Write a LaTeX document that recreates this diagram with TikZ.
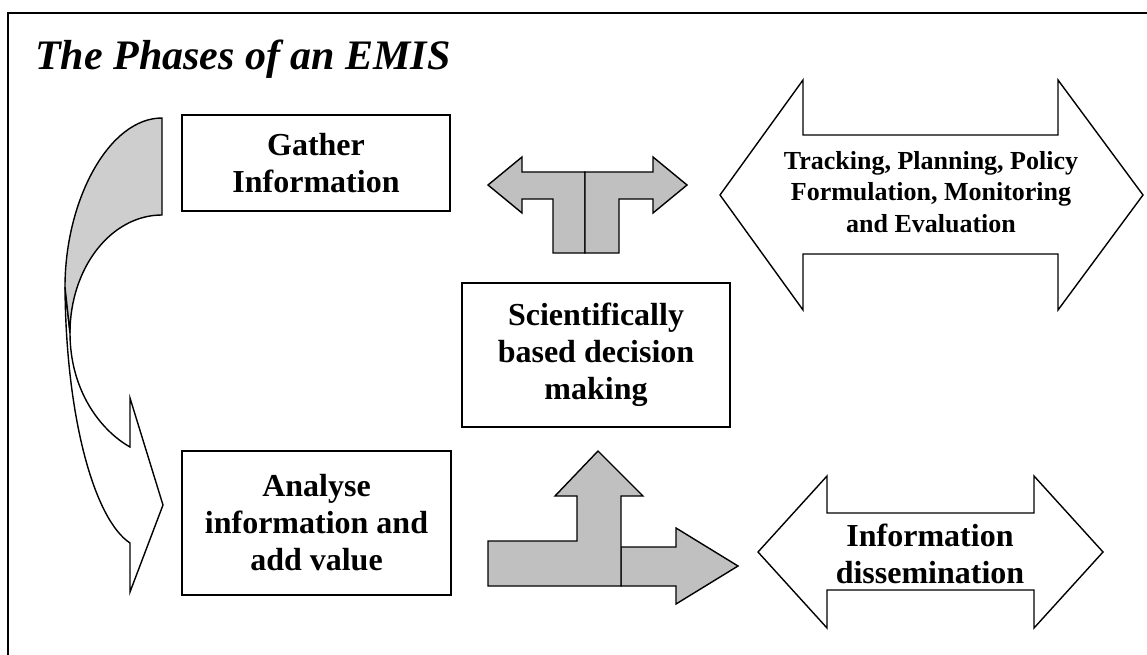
\documentclass[tikz,border=0pt]{standalone}
\usepackage{fontspec}
\setmainfont{Liberation Serif}
\newcommand{\phasefont}{\fontsize{32}{37}\bfseries\selectfont}
\newcommand{\usesfont}{\fontsize{26}{31.5}\bfseries\selectfont}
\newcommand{\headfont}{\fontsize{42}{48}\bfseries\itshape\selectfont}
\definecolor{arrowgray}{RGB}{192,192,192}
\definecolor{bandgray}{RGB}{206,206,206}
\begin{document}
\begin{tikzpicture}[x=1pt,y=-1pt,
  outline/.style={draw=black,line width=1.4pt,line join=miter},
  phasebox/.style={outline,fill=white,inner sep=0pt,align=center,font=\phasefont},
  blockarrow/.style={outline,fill=arrowgray},
  hollowarrow/.style={outline,fill=white},
  label/.style={align=center,inner sep=0pt}
]
\useasboundingbox (0,0) rectangle (1147,655);

% frame
\draw[line width=1.6pt] (8,655) -- (8,13) -- (1147,13);

% heading
\node[anchor=base west,inner sep=0pt,font=\headfont] (title) at (35,70) {The Phases of an EMIS};

% curved arrow linking gathering to analysis
\draw[outline,fill=white] (65,287) .. controls (66,420) and (95,520) .. (130,543)
  -- (130,592) -- (163,505) -- (130,398) -- (130,447)
  .. controls (100,430) and (70,390) .. (70,333) -- cycle;
\draw[outline,fill=bandgray] (65,287) .. controls (65,200) and (109,118) .. (162,118)
  -- (162,215) .. controls (111,215) and (70,268) .. (70,333) -- cycle;

% phase boxes
\node[phasebox,minimum width=268pt,minimum height=96pt] (gather) at (316,163) {Gather\\Information};
\node[phasebox,minimum width=269pt,minimum height=144pt] (analyse) at (316.5,523) {Analyse\\information and\\add value};
\node[phasebox,minimum width=268pt,minimum height=144pt] (decide) at (596,355) {Scientifically\\based decision\\making};

% split arrow above the decision box
\draw[blockarrow] (585,172) -- (522,172) -- (522,157) -- (488,185) -- (522,213) -- (522,199)
  -- (553,199) -- (553,253) -- (585,253) -- cycle;
\draw[blockarrow] (585,172) -- (653,172) -- (653,157) -- (687,185) -- (653,213) -- (653,199)
  -- (619,199) -- (619,253) -- (585,253) -- cycle;

% bent arrow below the decision box
\draw[blockarrow] (621,547) -- (676,547) -- (676,528) -- (738,566) -- (676,604) -- (676,586)
  -- (621,586) -- cycle;
\draw[blockarrow] (488,541) -- (577,541) -- (577,496) -- (555,496) -- (598,451) -- (643,496)
  -- (621,496) -- (621,586) -- (488,586) -- cycle;

% double-headed arrows with their texts
\draw[hollowarrow] (720,195) -- (803,80) -- (803,135) -- (1058,135) -- (1058,80) -- (1143,195)
  -- (1058,310) -- (1058,254) -- (803,254) -- (803,310) -- cycle;
\node[label,font=\usesfont] (uses) at (931,192) {Tracking, Planning, Policy\\Formulation, Monitoring\\and Evaluation};

\draw[hollowarrow] (758,552) -- (827,476) -- (827,513) -- (1034,513) -- (1034,476) -- (1103,552)
  -- (1034,628) -- (1034,590) -- (827,590) -- (827,628) -- cycle;
\node[label,font=\phasefont] (dissem) at (930,554) {Information\\dissemination};
\end{tikzpicture}
\end{document}
